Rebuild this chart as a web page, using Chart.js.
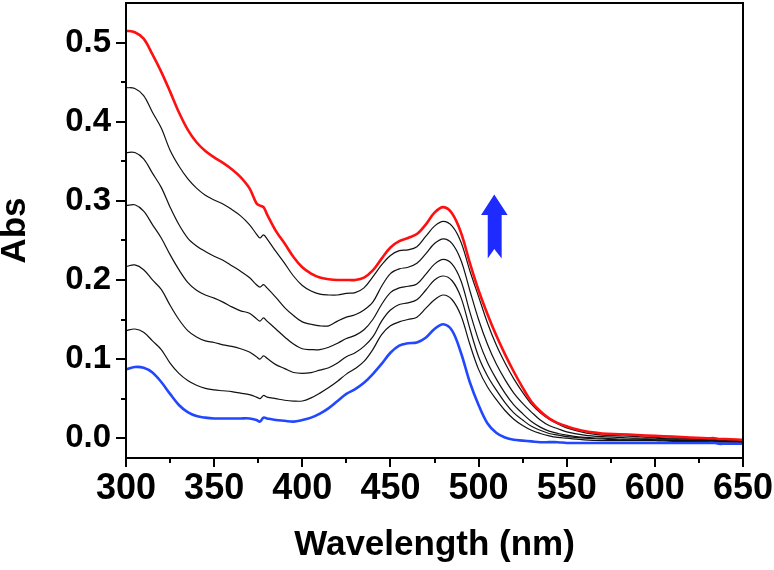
<!DOCTYPE html>
<html>
<head>
<meta charset="utf-8">
<script src="https://cdn.jsdelivr.net/npm/chart.js@4.4.1/dist/chart.umd.min.js"></script>
<style>
  html, body { margin: 0; padding: 0; background: #fff; }
  #wrap { width: 774px; height: 570px; }
</style>
</head>
<body>
<div id="wrap"><canvas id="spectra" width="774" height="570"></canvas></div>
<script>
// wavelengths (nm) shared by all spectra
const wavelengths = [300, 305, 310, 315, 320, 325, 330, 335, 340, 345, 350, 355, 360, 365, 370, 374, 376, 378, 380,
  385, 390, 395, 400, 405, 410, 415, 420, 425, 430, 435, 440, 445, 450, 455, 460, 465, 470, 475, 480,
  485, 490, 495, 500, 505, 510, 515, 520, 525, 530, 535, 540, 545, 550, 560, 570, 580, 590, 600, 610,
  620, 630, 634, 636, 640, 650];

// final spectrum (red)
const absFinal = [0.515, 0.513, 0.505, 0.485, 0.463, 0.438, 0.412, 0.390, 0.374, 0.363, 0.355, 0.348, 0.340, 0.330, 0.316, 0.297, 0.294, 0.292, 0.283,
  0.262, 0.246, 0.229, 0.216, 0.208, 0.203, 0.201, 0.200, 0.200, 0.200, 0.203, 0.212, 0.227, 0.241, 0.249, 0.253, 0.258, 0.270, 0.285, 0.292,
  0.284, 0.260, 0.222, 0.187, 0.157, 0.130, 0.106, 0.084, 0.064, 0.046, 0.034, 0.025, 0.019, 0.015, 0.009, 0.006, 0.005, 0.004, 0.003, 0.002,
  0.001, 0.000, 0.000, -0.001, -0.001, -0.002];

// intermediate spectra (black), top to bottom
const absStep1 = [0.443, 0.442, 0.433, 0.412, 0.392, 0.364, 0.344, 0.328, 0.316, 0.307, 0.301, 0.296, 0.289, 0.281, 0.270, 0.258, 0.253, 0.257, 0.252,
  0.236, 0.221, 0.205, 0.193, 0.186, 0.182, 0.181, 0.181, 0.183, 0.184, 0.190, 0.204, 0.219, 0.231, 0.237, 0.238, 0.242, 0.255, 0.268, 0.274,
  0.268, 0.248, 0.212, 0.179, 0.146, 0.118, 0.095, 0.075, 0.058, 0.043, 0.032, 0.024, 0.018, 0.013, 0.007, 0.004, 0.003, 0.002, 0.001, 0.000,
  0.000, -0.001, -0.001, -0.002, -0.002, -0.003];
const absStep2 = [0.361, 0.361, 0.353, 0.335, 0.317, 0.292, 0.270, 0.253, 0.243, 0.236, 0.230, 0.225, 0.218, 0.211, 0.203, 0.194, 0.191, 0.194, 0.190,
  0.178, 0.165, 0.155, 0.147, 0.144, 0.142, 0.142, 0.148, 0.153, 0.156, 0.162, 0.172, 0.192, 0.208, 0.214, 0.216, 0.221, 0.233, 0.246, 0.252,
  0.246, 0.225, 0.187, 0.150, 0.119, 0.094, 0.074, 0.057, 0.044, 0.033, 0.023, 0.016, 0.012, 0.008, 0.004, 0.002, 0.001, 0.000, 0.000, -0.001,
  -0.001, -0.002, -0.002, -0.003, -0.003, -0.004];
const absStep3 = [0.294, 0.295, 0.287, 0.270, 0.253, 0.232, 0.213, 0.197, 0.187, 0.181, 0.177, 0.172, 0.166, 0.161, 0.158, 0.151, 0.148, 0.152, 0.148,
  0.138, 0.128, 0.119, 0.113, 0.112, 0.112, 0.115, 0.120, 0.126, 0.130, 0.137, 0.150, 0.169, 0.184, 0.190, 0.192, 0.195, 0.207, 0.220, 0.226,
  0.220, 0.199, 0.160, 0.124, 0.096, 0.075, 0.057, 0.042, 0.031, 0.021, 0.014, 0.009, 0.006, 0.004, 0.001, 0.000, -0.001, -0.001, -0.002, -0.002,
  -0.002, -0.003, -0.003, -0.004, -0.004, -0.004];
const absStep4 = [0.217, 0.219, 0.213, 0.200, 0.188, 0.168, 0.150, 0.136, 0.128, 0.123, 0.121, 0.118, 0.116, 0.113, 0.109, 0.103, 0.100, 0.104, 0.101,
  0.093, 0.088, 0.083, 0.082, 0.083, 0.086, 0.089, 0.095, 0.103, 0.108, 0.116, 0.128, 0.148, 0.162, 0.169, 0.171, 0.175, 0.187, 0.200, 0.205,
  0.199, 0.178, 0.139, 0.103, 0.079, 0.061, 0.045, 0.032, 0.023, 0.015, 0.010, 0.006, 0.004, 0.002, 0.000, -0.001, -0.002, -0.002, -0.002, -0.003,
  -0.003, -0.003, -0.003, -0.004, -0.004, -0.005];
const absStep5 = [0.136, 0.138, 0.134, 0.123, 0.112, 0.095, 0.082, 0.073, 0.067, 0.063, 0.061, 0.060, 0.059, 0.057, 0.055, 0.052, 0.050, 0.054, 0.052,
  0.050, 0.048, 0.047, 0.047, 0.051, 0.057, 0.064, 0.072, 0.081, 0.088, 0.097, 0.112, 0.131, 0.142, 0.147, 0.150, 0.153, 0.164, 0.175, 0.181,
  0.175, 0.155, 0.119, 0.087, 0.065, 0.049, 0.035, 0.024, 0.016, 0.010, 0.006, 0.003, 0.001, 0.000, -0.002, -0.003, -0.003, -0.003, -0.003, -0.004,
  -0.004, -0.004, -0.004, -0.005, -0.005, -0.005];

// initial spectrum (blue)
const absStart = [0.087, 0.090, 0.089, 0.083, 0.071, 0.056, 0.042, 0.033, 0.028, 0.026, 0.025, 0.025, 0.025, 0.025, 0.025, 0.023, 0.021, 0.026, 0.025,
  0.023, 0.022, 0.021, 0.023, 0.026, 0.031, 0.038, 0.047, 0.056, 0.062, 0.070, 0.081, 0.094, 0.108, 0.117, 0.120, 0.121, 0.127, 0.138, 0.144,
  0.136, 0.108, 0.071, 0.042, 0.019, 0.007, 0.001, -0.002, -0.003, -0.004, -0.005, -0.005, -0.005, -0.006, -0.006, -0.006, -0.006, -0.006, -0.006, -0.006,
  -0.006, -0.006, -0.006, -0.007, -0.007, -0.007];

// tick values
const xMajorTicks = [300, 350, 400, 450, 500, 550, 600, 650];
const xMinorTicks = [325, 375, 425, 475, 525, 575, 625];
const yMajorTicks = [0.0, 0.1, 0.2, 0.3, 0.4, 0.5];
const yMinorTicks = [0.05, 0.15, 0.25, 0.35, 0.45];

// blue "increase" arrow, in data units (nm, Abs)
const arrowX = [508.9, 516.5, 513.1, 513.1, 508.9, 505.2, 505.2, 501.4];
const arrowY = [0.308, 0.282, 0.282, 0.227, 0.239, 0.227, 0.282, 0.282];

function toPoints(values) {
    return wavelengths.map(function (w, i) { return {x: w, y: values[i]}; });
}

function spectrum(values, color, width) {
    return {
        data: toPoints(values),
        borderColor: color,
        borderWidth: width,
        pointRadius: 0,
        fill: false,
        tension: 0.35
    };
}

const frameAndMarks = {
    id: 'frameAndMarks',
    afterDatasetsDraw(chart) {
        const ctx = chart.ctx;
        const xs = chart.scales.x;
        const ys = chart.scales.y;
        const area = chart.chartArea;

        // arrow
        ctx.save();
        ctx.beginPath();
        arrowX.forEach(function (v, i) {
            const px = xs.getPixelForValue(v);
            const py = ys.getPixelForValue(arrowY[i]);
            if (i === 0) ctx.moveTo(px, py); else ctx.lineTo(px, py);
        });
        ctx.closePath();
        ctx.fillStyle = '#1e2bff';
        ctx.fill();
        ctx.restore();

        // minor ticks
        ctx.save();
        ctx.strokeStyle = '#000';
        ctx.lineWidth = 2;
        ctx.beginPath();
        xMinorTicks.forEach(function (v) {
            const px = Math.round(xs.getPixelForValue(v));
            ctx.moveTo(px, area.bottom);
            ctx.lineTo(px, area.bottom + 5);
        });
        yMinorTicks.forEach(function (v) {
            const py = Math.round(ys.getPixelForValue(v));
            ctx.moveTo(area.left - 5, py);
            ctx.lineTo(area.left, py);
        });
        ctx.stroke();

        // frame
        ctx.lineWidth = 2;
        ctx.strokeRect(area.left, area.top, area.right - area.left, area.bottom - area.top);
        ctx.restore();
    }
};

const ctx1 = document.getElementById('spectra').getContext('2d');
const spectraChart = new Chart(ctx1, {
    type: 'line',
    data: {
        datasets: [
            spectrum(absFinal, '#ff1010', 2.6),
            spectrum(absStart, '#2148ff', 2.6),
            spectrum(absStep1, '#111', 1.2),
            spectrum(absStep2, '#111', 1.2),
            spectrum(absStep3, '#111', 1.2),
            spectrum(absStep4, '#111', 1.2),
            spectrum(absStep5, '#111', 1.2)
        ]
    },
    options: {
        responsive: false,
        animation: false,
        devicePixelRatio: 1,
        layout: {
            padding: {left: 0, top: 3, right: 31, bottom: 0}
        },
        plugins: {
            legend: { display: false },
            tooltip: { enabled: false }
        },
        scales: {
            x: {
                type: 'linear',
                min: 300,
                max: 650,
                afterFit: function (scale) {
                    scale.height = 112;
                    scale.paddingLeft = 0;
                    scale.paddingRight = 0;
                },
                afterBuildTicks: function (scale) {
                    scale.ticks = xMajorTicks.map(function (v) { return {value: v}; });
                },
                border: { display: false },
                grid: {
                    drawOnChartArea: false,
                    drawTicks: true,
                    tickLength: 9,
                    color: '#000',
                    lineWidth: 2
                },
                ticks: {
                    color: '#000',
                    padding: 0,
                    maxRotation: 0,
                    font: { family: 'Liberation Sans, Arial, sans-serif', size: 36, weight: 'bold' }
                },
                title: {
                    display: true,
                    text: 'Wavelength (nm)',
                    color: '#000',
                    padding: {top: 0, bottom: 7},
                    font: { family: 'Liberation Sans, Arial, sans-serif', size: 35, weight: 'bold', lineHeight: 1 }
                }
            },
            y: {
                type: 'linear',
                min: -0.025,
                max: 0.55,
                afterFit: function (scale) {
                    scale.width = 126;
                    scale.paddingTop = 0;
                    scale.paddingBottom = 0;
                },
                afterBuildTicks: function (scale) {
                    scale.ticks = yMajorTicks.map(function (v) { return {value: v}; });
                },
                border: { display: false },
                grid: {
                    drawOnChartArea: false,
                    drawTicks: true,
                    tickLength: 10,
                    color: '#000',
                    lineWidth: 2
                },
                ticks: {
                    color: '#000',
                    padding: 5,
                    font: { family: 'Liberation Sans, Arial, sans-serif', size: 33, weight: 'bold' },
                    callback: function (value) { return value.toFixed(1); }
                },
                title: {
                    display: true,
                    text: 'Abs',
                    color: '#000',
                    padding: {top: -2, bottom: 0},
                    font: { family: 'Liberation Sans, Arial, sans-serif', size: 35, weight: 'bold', lineHeight: 1 }
                }
            }
        }
    },
    plugins: [frameAndMarks]
});
</script>
</body>
</html>
